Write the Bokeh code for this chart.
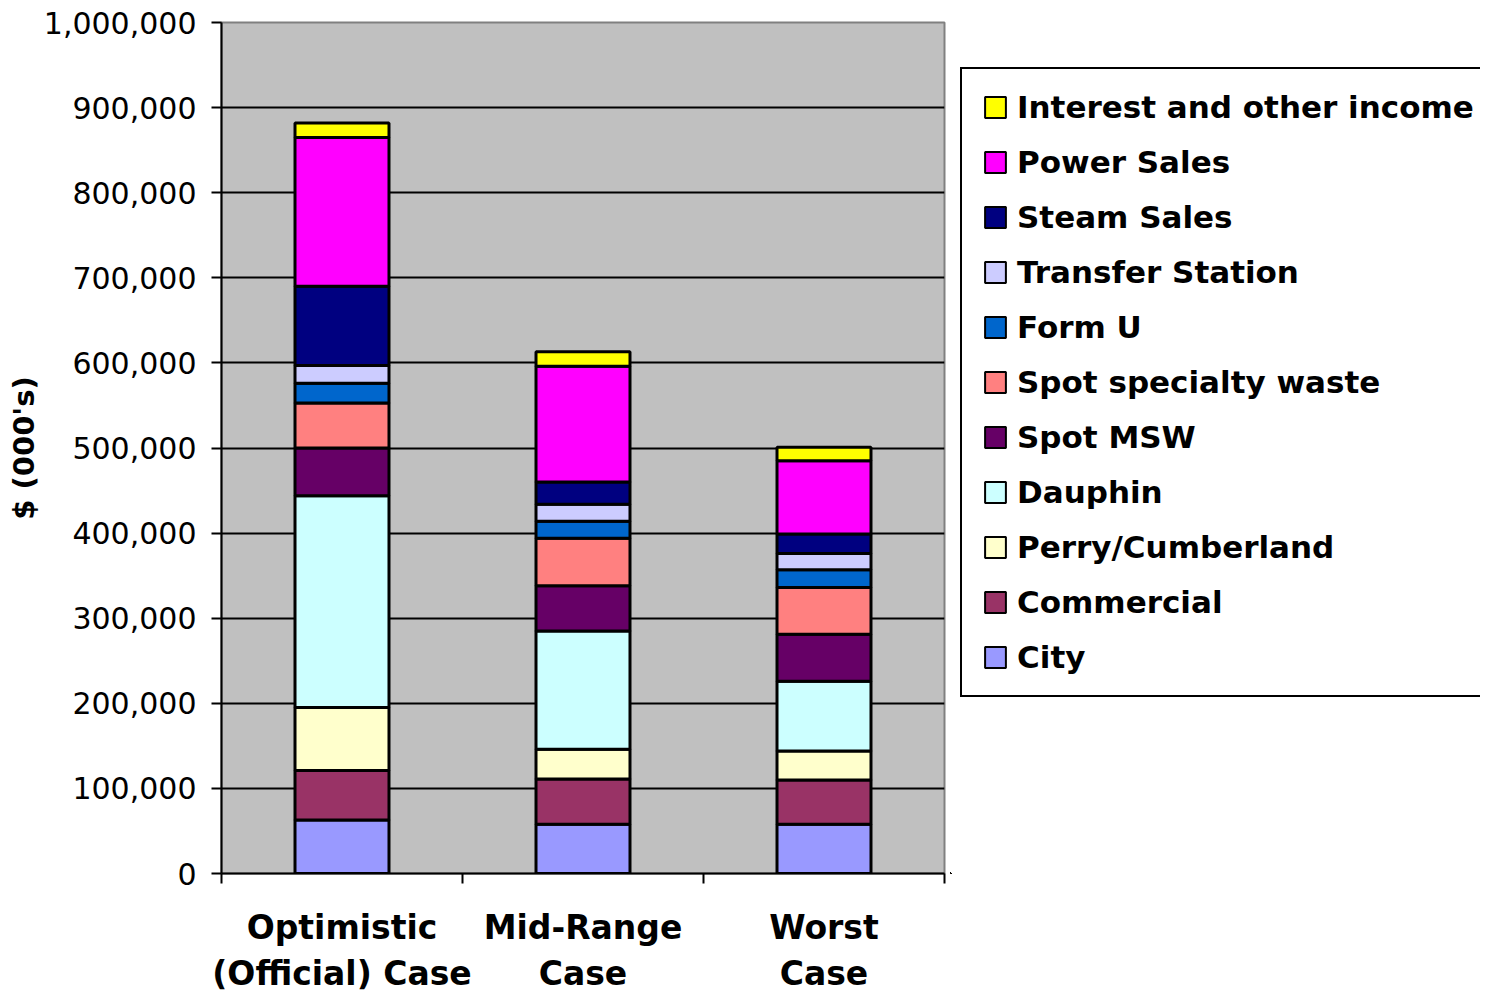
from bokeh.plotting import figure
from bokeh.layouts import row
from bokeh.models import (FixedTicker, NumeralTickFormatter, Legend, LegendItem,
                          Range1d, ColumnDataSource)
from bokeh.embed import file_html
from bokeh.resources import INLINE

# ---------------- data ----------------
cases = ["Optimistic\n(Official) Case", "Mid-Range\nCase", "Worst\nCase"]
series = ["City", "Commercial", "Perry/Cumberland", "Dauphin", "Spot MSW",
          "Spot specialty waste", "Form U", "Transfer Station", "Steam Sales",
          "Power Sales", "Interest and other income"]
city = [63000, 58000, 58000]
commercial = [58000, 53000, 52000]
perry_cumberland = [74000, 35000, 34000]
dauphin = [249000, 139000, 82000]
spot_msw = [56000, 53000, 55000]
spot_specialty = [53000, 56000, 55000]
form_u = [23000, 20000, 21000]
transfer_station = [21000, 20000, 19000]
steam_sales = [93000, 26000, 23000]
power_sales = [175000, 136000, 86000]
interest_other = [17000, 17000, 16000]
colors = ["#9999FF", "#993366", "#FFFFCC", "#CCFFFF", "#660066", "#FF8080",
          "#0066CC", "#CCCCFF", "#000080", "#FF00FF", "#FFFF00"]
y_ticks = [0, 100000, 200000, 300000, 400000, 500000, 600000, 700000,
           800000, 900000, 1000000]

values = [city, commercial, perry_cumberland, dauphin, spot_msw, spot_specialty,
          form_u, transfer_station, steam_sales, power_sales, interest_other]

data = {"x": [i + 0.5 for i in range(len(cases))]}
for name, vals in zip(series, values):
    data[name] = vals
source = ColumnDataSource(data)

H = 996
p = figure(width=950, height=H, output_backend="svg", toolbar_location=None,
           x_range=Range1d(0, 3), y_range=Range1d(0, 1000000),
           min_border_left=221, min_border_right=6, min_border_top=22,
           min_border_bottom=108)
p.background_fill_color = "#C0C0C0"
p.border_fill_color = "white"
p.outline_line_color = "#808080"
p.outline_line_width = 2

p.vbar_stack(series, x="x", width=0.39, source=source,
             fill_color=colors, line_color="black", line_width=3)

# grid
p.xgrid.visible = False
p.ygrid.ticker = FixedTicker(ticks=y_ticks[1:-1])
p.ygrid.grid_line_color = "black"
p.ygrid.grid_line_width = 2

# y axis
ya = p.yaxis[0]
ya.ticker = FixedTicker(ticks=y_ticks)
ya.formatter = NumeralTickFormatter(format="0,0")
ya.major_label_text_font = "DejaVu Sans"
ya.major_label_text_font_size = "30px"
ya.major_label_text_color = "black"
ya.major_tick_out = 10
ya.major_tick_in = 0
ya.major_tick_line_width = 2
ya.major_tick_line_color = "black"
ya.minor_tick_line_color = None
ya.axis_line_color = "black"
ya.axis_line_width = 2
ya.major_label_standoff = 15
ya.axis_label = "$ (000's)"
ya.axis_label_text_font = "DejaVu Sans"
ya.axis_label_text_font_style = "bold"
ya.axis_label_text_font_size = "29px"
ya.axis_label_text_color = "black"
ya.axis_label_standoff = 0

# x axis
xa = p.xaxis[0]
xa.ticker = FixedTicker(ticks=data["x"], minor_ticks=[0, 1, 2, 3])
xa.major_label_overrides = {x: c for x, c in zip(data["x"], cases)}
xa.major_tick_out = 0
xa.major_tick_in = 0
xa.major_tick_line_color = None
xa.minor_tick_out = 10
xa.minor_tick_in = 0
xa.minor_tick_line_color = "black"
xa.minor_tick_line_width = 2
xa.axis_line_color = "black"
xa.axis_line_width = 2
xa.major_label_text_font = "DejaVu Sans"
xa.major_label_text_font_style = "bold"
xa.major_label_text_font_size = "33px"
xa.major_label_text_color = "black"
xa.major_label_standoff = 24

# ---------------- legend panel ----------------
p2 = figure(width=530, height=H, output_backend="svg", toolbar_location=None,
            x_range=Range1d(10, 11), y_range=Range1d(5e6, 6e6),
            min_border=0, min_border_left=0, min_border_right=0,
            min_border_top=0, min_border_bottom=0)
p2.axis.visible = False
p2.grid.visible = False
p2.outline_line_color = None
p2.background_fill_color = "white"
p2.border_fill_color = "white"
proxies = p2.vbar_stack(series, x="x", width=0.39, source=source,
                        fill_color=colors, line_color="black", line_width=2)

items = [LegendItem(label=n, renderers=[r]) for n, r in zip(series, proxies)][::-1]
legend = Legend(items=items, location=(10, 176))
legend.label_text_font = "DejaVu Sans"
legend.label_text_font_style = "bold"
legend.label_text_font_size = "31px"
legend.label_text_color = "black"
legend.glyph_width = 26
legend.glyph_height = 26
legend.label_standoff = 9
legend.padding = 20
legend.spacing = 19
legend.margin = 0
legend.border_line_color = "black"
legend.border_line_alpha = 1
legend.border_line_width = 2
legend.background_fill_color = "white"
legend.background_fill_alpha = 1
p2.add_layout(legend, "center")

layout = row(p, p2)
open("out.html", "w").write(file_html(layout, INLINE))
